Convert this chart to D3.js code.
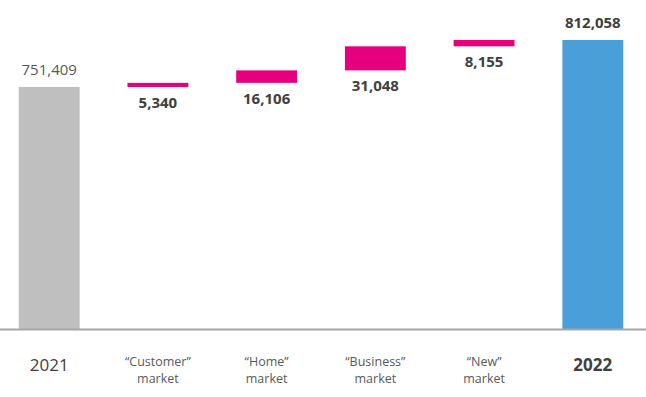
<!DOCTYPE html>
<html>
<head>
<meta charset="utf-8">
<script src="https://cdn.jsdelivr.net/npm/d3@7"></script>
<style>
  body { margin: 0; background: #fff; }
  svg { display: block; font-family: "Open Sans", "Noto Sans", sans-serif; }
</style>
</head>
<body>
<svg width="646" height="397"></svg>
<script>
var svg = d3.select("svg");

var width = 646;
var height = 397;

// categories, two lines each for the market labels
var categories = ["2021", "customer", "home", "business", "new", "2022"];
var labelLines = [["2021"], ["\u201cCustomer\u201d", "market"], ["\u201cHome\u201d", "market"],
  ["\u201cBusiness\u201d", "market"], ["\u201cNew\u201d", "market"], ["2022"]];
var startValue = 751409;
var increments = [5340, 16106, 31048, 8155];
var endValue = 812058;

// build waterfall steps
var steps = [];
steps.push({ key: categories[0], y0: null, y1: startValue, type: "start", value: startValue });
var run = startValue;
increments.forEach(function(v, i) {
  steps.push({ key: categories[i + 1], y0: run, y1: run + v, type: "inc", value: v });
  run += v;
});
steps.push({ key: categories[5], y0: null, y1: endValue, type: "end", value: endValue });

var baseY = 329;

var x = d3.scaleBand()
  .domain(categories)
  .range([-3, 645])
  .paddingInner(0.44)
  .paddingOuter(0.2);

var y = d3.scaleLinear()
  .domain([439000, endValue])
  .range([baseY, 40]);

var fmt = d3.format(",");

var colors = { start: "#bfbfbf", inc: "#e6007e", end: "#4a9fd8" };

svg.append("g")
  .selectAll("rect")
  .data(steps)
  .enter().append("rect")
  .attr("x", function(d) { return x(d.key); })
  .attr("width", x.bandwidth())
  .attr("y", function(d) { return y(d.y1); })
  .attr("height", function(d) {
    return d.type == "inc" ? y(d.y0) - y(d.y1) : baseY - y(d.y1);
  })
  .attr("fill", function(d) { return colors[d.type]; });

// baseline
svg.append("line")
  .attr("x1", 0).attr("x2", width)
  .attr("y1", baseY + 0.5).attr("y2", baseY + 0.5)
  .attr("stroke", "#a6a6a6")
  .attr("stroke-width", 2);

// value labels
svg.append("g")
  .selectAll("text")
  .data(steps)
  .enter().append("text")
  .attr("x", function(d) { return x(d.key) + x.bandwidth() / 2; })
  .attr("y", function(d) {
    return d.type == "inc" ? y(d.y0) + 21 : y(d.y1) - 12;
  })
  .attr("text-anchor", "middle")
  .attr("font-size", 15)
  .attr("font-weight", function(d) { return d.type == "start" ? "normal" : "bold"; })
  .attr("fill", function(d) { return d.type == "start" ? "#595959" : "#404040"; })
  .text(function(d) { return fmt(d.value); });

// category labels
var cat = svg.append("g")
  .selectAll("text")
  .data(categories)
  .enter().append("text")
  .attr("text-anchor", "middle")
  .attr("x", function(d) { return x(d) + x.bandwidth() / 2; })
  .attr("fill", function(d, i) { return labelLines[i].length > 1 ? "#595959" : "#404040"; })
  .attr("font-size", function(d, i) { return labelLines[i].length > 1 ? 12.5 : 17; })
  .attr("font-weight", function(d, i) { return i == 5 ? "bold" : "normal"; });

cat.each(function(d, i) {
  var t = d3.select(this);
  var lines = labelLines[i];
  if (lines.length == 1) {
    t.append("tspan").attr("x", x(d) + x.bandwidth() / 2).attr("y", 371).text(lines[0]);
  } else {
    lines.forEach(function(l, j) {
      t.append("tspan")
        .attr("x", x(d) + x.bandwidth() / 2)
        .attr("y", 366 + j * 17)
        .text(l);
    });
  }
});
</script>
</body>
</html>
